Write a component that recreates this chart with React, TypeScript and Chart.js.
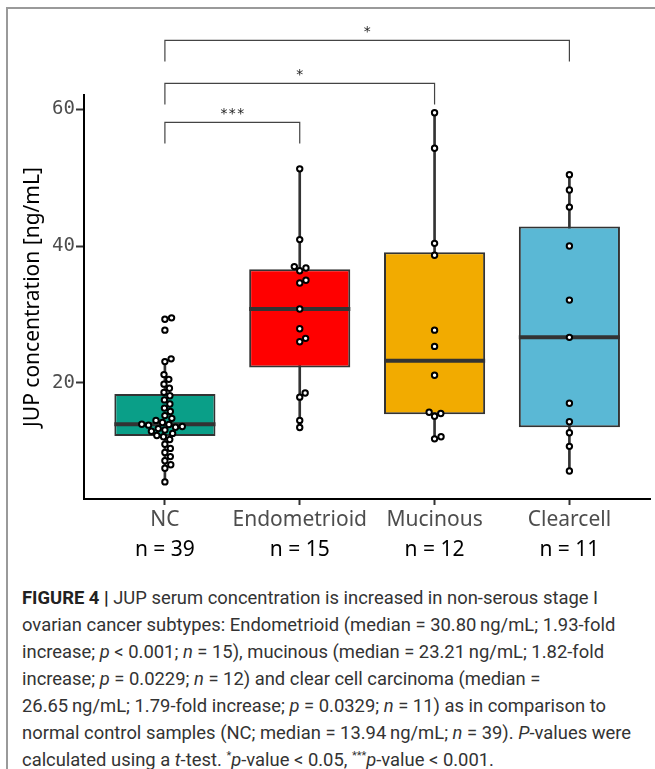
import React, { useEffect, useRef } from 'react';
import { Chart, registerables } from 'chart.js';

Chart.register(...registerables);

// ---------- data ----------
const categories = ['NC', 'Endometrioid', 'Mucinous', 'Clearcell'];
const ncValues = [
  29.5, 29.3, 27.7, 23.5, 23.1, 21.2, 20.5, 19.8, 19.2, 18.6,
  18.1, 17.5, 16.9, 16.3, 15.8, 15.2, 14.8, 14.5, 14.2, 13.94,
  13.9, 13.8, 13.6, 13.5, 13.3, 13.1, 12.9, 12.6, 12.3, 12.1,
  11.7, 11.0, 10.4, 9.8, 9.2, 8.6, 8.0, 7.5, 5.5,
];
const endometrioidValues = [51.3, 40.95, 37.0, 36.8, 36.4, 35.0, 34.6, 30.8, 27.9, 26.5, 26.0, 18.5, 17.9, 14.5, 13.45];
const mucinousValues = [59.5, 54.3, 40.4, 38.65, 27.7, 25.32, 21.1, 15.7, 15.5, 15.1, 12.1, 11.8];
const clearcellValues = [50.45, 48.2, 45.7, 40.0, 32.1, 26.65, 17.0, 14.3, 12.7, 10.7, 7.1];
const groupValues = [ncValues, endometrioidValues, mucinousValues, clearcellValues];
const boxColors = ['#0A9F88', '#FF0000', '#F2AB00', '#5AB8D5'];
const yTicks = [20, 40, 60];
const comparisonPairs = [[0, 1], [0, 2], [0, 3]];
const comparisonLabels = ['***', '*', '*'];
const comparisonHeights = [58.1, 63.8, 70.1];
const comparisonTip = 3.1;

// ---------- stats ----------
function quantile(sorted: number[], p: number) {
  const h = (sorted.length - 1) * p;
  const lo = Math.floor(h);
  const hi = Math.ceil(h);
  return sorted[lo] + (h - lo) * (sorted[hi] - sorted[lo]);
}
const stats = groupValues.map((vals) => {
  const s = [...vals].sort((a, b) => a - b);
  const q1 = quantile(s, 0.25);
  const med = quantile(s, 0.5);
  const q3 = quantile(s, 0.75);
  const iqr = q3 - q1;
  const lo = Math.min(...s.filter((v) => v >= q1 - 1.5 * iqr));
  const hi = Math.max(...s.filter((v) => v <= q3 + 1.5 * iqr));
  return { q1, med, q3, lo, hi };
});
const pointData = groupValues.flatMap((vals, i) => vals.map((v) => ({ x: i + 1, y: v })));

const WHISKER = 0;
const BOX = 1;
const POINTS = 2;

const boxExtras = {
  id: 'boxExtras',
  beforeDatasetsDraw(chart: any) {
    const meta = chart.getDatasetMeta(POINTS);
    const xs = chart.scales.x;
    const D = 6.8;
    const groups: Record<number, any[]> = {};
    meta.data.forEach((el: any, i: number) => {
      const g = pointData[i].x;
      (groups[g] = groups[g] || []).push(el);
    });
    Object.keys(groups).forEach((k) => {
      const center = xs.getPixelForValue(Number(k));
      const els = groups[Number(k)].slice().sort((a: any, b: any) => b.y - a.y);
      const placed: { off: number; y: number }[] = [];
      els.forEach((el: any) => {
        const cands = [0];
        placed.forEach((p) => {
          const dy = Math.abs(p.y - el.y);
          if (dy < D) {
            const dx = Math.sqrt(D * D - dy * dy);
            cands.push(p.off + dx, p.off - dx);
          }
        });
        const ok = cands.filter((c) =>
          placed.every((p) => (p.off - c) ** 2 + (p.y - el.y) ** 2 >= D * D - 1e-6)
        );
        ok.sort((a, b) => Math.abs(a) - Math.abs(b));
        const off = ok.length ? ok[0] : 0;
        placed.push({ off, y: el.y });
        el.x = center + off;
      });
    });
  },
  afterDatasetDraw(chart: any, args: any) {
    if (args.index !== BOX) return;
    const ctx = chart.ctx;
    const ys = chart.scales.y;
    const meta = chart.getDatasetMeta(BOX);
    ctx.save();
    ctx.strokeStyle = '#333333';
    ctx.lineWidth = 4;
    meta.data.forEach((el: any, i: number) => {
      const y = ys.getPixelForValue(stats[i].med);
      ctx.beginPath();
      ctx.moveTo(el.x - el.width / 2, y);
      ctx.lineTo(el.x + el.width / 2, y);
      ctx.stroke();
    });
    ctx.restore();
  },
  afterDraw(chart: any) {
    const ctx = chart.ctx;
    const xs = chart.scales.x;
    const ys = chart.scales.y;
    ctx.save();
    ctx.strokeStyle = '#444444';
    ctx.lineWidth = 1.2;
    ctx.fillStyle = '#222222';
    ctx.font = '14px "DejaVu Sans Mono"';
    ctx.textAlign = 'center';
    ctx.textBaseline = 'alphabetic';
    comparisonPairs.forEach((pair, i) => {
      const x1 = xs.getPixelForValue(pair[0] + 1);
      const x2 = xs.getPixelForValue(pair[1] + 1);
      const y = ys.getPixelForValue(comparisonHeights[i]);
      const yt = ys.getPixelForValue(comparisonHeights[i] - comparisonTip);
      ctx.beginPath();
      ctx.moveTo(x1, yt);
      ctx.lineTo(x1, y);
      ctx.lineTo(x2, y);
      ctx.lineTo(x2, yt);
      ctx.stroke();
      ctx.fillText(comparisonLabels[i], (x1 + x2) / 2, y - 4);
    });
    ctx.restore();
  },
};

const categoryTicks = (axis: any) => {
  axis.ticks = categories.map((_, i) => ({ value: i + 1 }));
};

function BoxChart() {
  const ref = useRef<HTMLCanvasElement | null>(null);
  useEffect(() => {
    if (!ref.current) return;
    const chart = new Chart(ref.current, {
      type: 'bar',
      data: {
        datasets: [
          {
            type: 'bar',
            data: stats.map((s, i) => ({ x: i + 1, y: [s.lo, s.hi] })) as any,
            backgroundColor: '#333333',
            borderWidth: 0,
            barThickness: 2,
            grouped: false,
            order: 3,
          } as any,
          {
            type: 'bar',
            data: stats.map((s, i) => ({ x: i + 1, y: [s.q1, s.q3] })) as any,
            backgroundColor: boxColors,
            borderColor: '#333333',
            borderWidth: 2,
            borderSkipped: false,
            barPercentage: 0.75,
            categoryPercentage: 1,
            grouped: false,
            order: 2,
          } as any,
          {
            type: 'scatter',
            data: pointData as any,
            pointRadius: 2.7,
            pointHoverRadius: 2.7,
            pointBackgroundColor: '#ffffff',
            pointBorderColor: '#000000',
            pointBorderWidth: 2,
            order: 0,
          } as any,
        ],
      },
      options: {
        animation: false,
        responsive: false,
        devicePixelRatio: 1,
        layout: { padding: { top: 95, right: 4, bottom: 14, left: 0 } },
        plugins: { legend: { display: false }, tooltip: { enabled: false } },
        scales: {
          x: {
            type: 'linear',
            position: 'bottom',
            min: 0.4,
            max: 4.6,
            offset: false,
            weight: 0,
            afterBuildTicks: categoryTicks,
            afterFit: (axis: any) => { axis.height = 31; },
            grid: { display: true, offset: false, drawOnChartArea: false, drawTicks: true, tickLength: 6, tickColor: '#333333', tickWidth: 2 },
            border: { display: true, color: '#000000', width: 2 },
            ticks: {
              autoSkip: false,
              maxRotation: 0,
              padding: 2,
              color: '#4D4D4D',
              font: { family: '"Noto Sans"', size: 21 },
              callback: (v: any) => categories[Number(v) - 1] ?? '',
            },
          },
          xn: {
            type: 'linear',
            position: 'bottom',
            min: 0.4,
            max: 4.6,
            offset: false,
            weight: 1,
            afterBuildTicks: categoryTicks,
            afterFit: (axis: any) => { axis.height = 36; },
            grid: { display: false, offset: false, drawTicks: false },
            border: { display: false },
            ticks: {
              autoSkip: false,
              maxRotation: 0,
              padding: 7,
              color: '#000000',
              font: { family: '"Noto Sans"', size: 21 },
              callback: (v: any) => {
                const vals = groupValues[Number(v) - 1];
                return vals ? `n = ${vals.length}` : '';
              },
            },
          },
          y: {
            type: 'linear',
            min: 3.0,
            max: 62.1,
            afterBuildTicks: (axis: any) => { axis.ticks = yTicks.map((v) => ({ value: v })); },
            afterFit: (axis: any) => { axis.width = 84; },
            grid: { display: true, drawOnChartArea: false, drawTicks: true, tickLength: 8, tickColor: '#333333', tickWidth: 2 },
            border: { display: true, color: '#000000', width: 2 },
            ticks: {
              padding: 1,
              color: '#4D4D4D',
              font: { family: '"DejaVu Sans Mono"', size: 19 },
            },
            title: {
              display: true,
              text: 'JUP concentration [ng/mL]',
              color: '#000000',
              font: { family: '"Noto Sans"', size: 21 },
              padding: { top: 20, bottom: 0 },
            },
          },
        },
      },
      plugins: [boxExtras],
    });
    return () => chart.destroy();
  }, []);
  return <canvas ref={ref} width={655} height={580} style={{ display: 'block', position: 'absolute', left: 0, top: 0 }} />;
}

const captionStyle: React.CSSProperties = {
  position: 'absolute',
  left: 22,
  top: 584,
  fontFamily: 'Roboto, "Noto Sans", sans-serif',
  fontSize: 18.4,
  lineHeight: '27px',
  color: '#333333',
  whiteSpace: 'nowrap',
};
const supStyle: React.CSSProperties = { fontSize: '0.6em', lineHeight: 0 };

export default function App() {
  return (
    <div style={{ position: 'absolute', left: 0, top: 0, width: 655, height: 769, background: '#ffffff', overflow: 'hidden' }}>
      <div style={{ position: 'absolute', left: 6, top: 7, width: 700, height: 800, borderLeft: '2px solid #9A9A9A', borderTop: '2px solid #9A9A9A' }} />
      <BoxChart />
      <div style={captionStyle}>
        <div><b style={{ color: '#222' }}>FIGURE 4 |</b> JUP serum concentration is increased in non-serous stage I</div>
        <div>ovarian cancer subtypes: Endometrioid (median = 30.80{'\u2009'}ng/mL; 1.93-fold</div>
        <div>increase; <i>p</i> &lt; 0.001; <i>n</i> = 15), mucinous (median = 23.21{'\u2009'}ng/mL; 1.82-fold</div>
        <div>increase; <i>p</i> = 0.0229; <i>n</i> = 12) and clear cell carcinoma (median =</div>
        <div>26.65{'\u2009'}ng/mL; 1.79-fold increase; <i>p</i> = 0.0329; <i>n</i> = 11) as in comparison to</div>
        <div>normal control samples (NC; median = 13.94{'\u2009'}ng/mL; <i>n</i> = 39). <i>P</i>-values were</div>
        <div style={{ height: 27 }}>calculated using a <i>t</i>-test. <sup style={supStyle}>*</sup><i>p</i>-value &lt; 0.05, <sup style={supStyle}>***</sup><i>p</i>-value &lt; 0.001.</div>
      </div>
    </div>
  );
}
